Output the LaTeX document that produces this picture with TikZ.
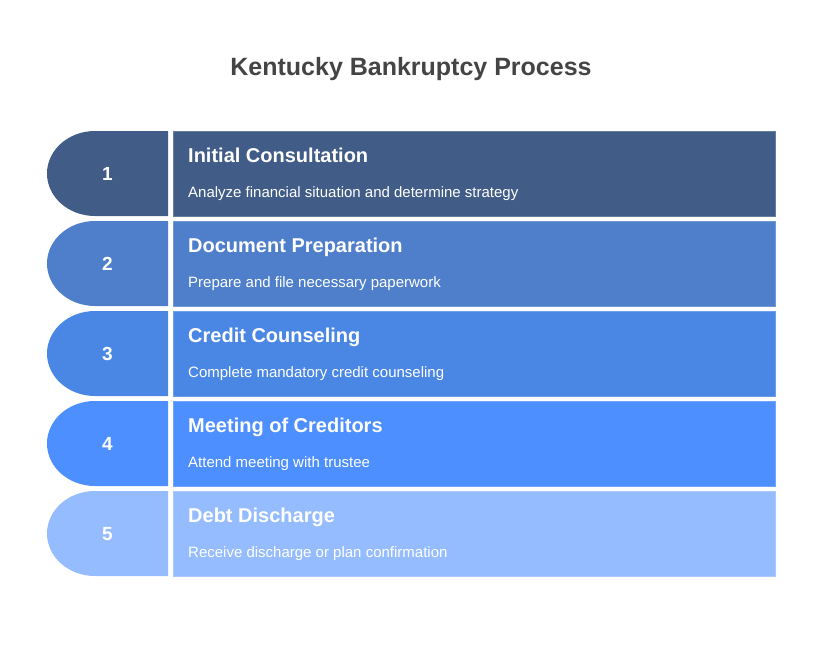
\documentclass[tikz,border=0pt]{standalone}
\usepackage{fontspec}
\setmainfont{Liberation Sans}
\definecolor{cA}{HTML}{415C87}
\definecolor{cB}{HTML}{4F7FCB}
\definecolor{cC}{HTML}{4A87E5}
\definecolor{cD}{HTML}{4D8FFE}
\definecolor{cE}{HTML}{95BCFE}
\definecolor{titlegray}{HTML}{444444}
\tikzset{
  titletext/.style={font=\fontsize{25}{30}\selectfont\bfseries, text=titlegray, inner sep=0pt, anchor=base},
  headtext/.style={font=\fontsize{20}{24}\selectfont\bfseries, text=white, inner sep=0pt, anchor=base west},
  subtext/.style={font=\fontsize{15}{18}\selectfont, text=white, inner sep=0pt, anchor=base west},
  numtext/.style={font=\fontsize{19}{23}\selectfont\bfseries, text=white, inner sep=0pt},
  stepbar/.style={fill=#1, draw=#1!80!white, line width=0.8pt}
}
\begin{document}
\begin{tikzpicture}[x=1pt,y=-1pt]
\useasboundingbox (0,0) rectangle (822,648);
\fill[white] (0,0) rectangle (822,648);
\node[titletext] (title) at (411,75.5) {Kentucky Bankruptcy Process};
\foreach \i/\col/\head/\sub in {
  1/cA/Initial Consultation/Analyze financial situation and determine strategy,
  2/cB/Document Preparation/Prepare and file necessary paperwork,
  3/cC/Credit Counseling/Complete mandatory credit counseling,
  4/cD/Meeting of Creditors/Attend meeting with trustee,
  5/cE/Debt Discharge/Receive discharge or plan confirmation}{
  \pgfmathsetmacro{\t}{131+90*(\i-1)}
  \pgfmathsetmacro{\b}{\t+85}
  \pgfmathsetmacro{\m}{\t+42.5}
  \fill[\col] (168,\t) -- (95,\t) arc[start angle=90,end angle=270,x radius=48,y radius=-42.5] -- (168,\b) -- cycle;
  \draw[stepbar=\col] (173,\t) rectangle (775,\b);
  \node[numtext] (n\i) at (107.5,\m+0.5) {\i};
  \node[headtext] (h\i) at (188,\t+31) {\head};
  \node[subtext] (s\i) at (188,\t+66) {\sub};
}
\end{tikzpicture}
\end{document}
